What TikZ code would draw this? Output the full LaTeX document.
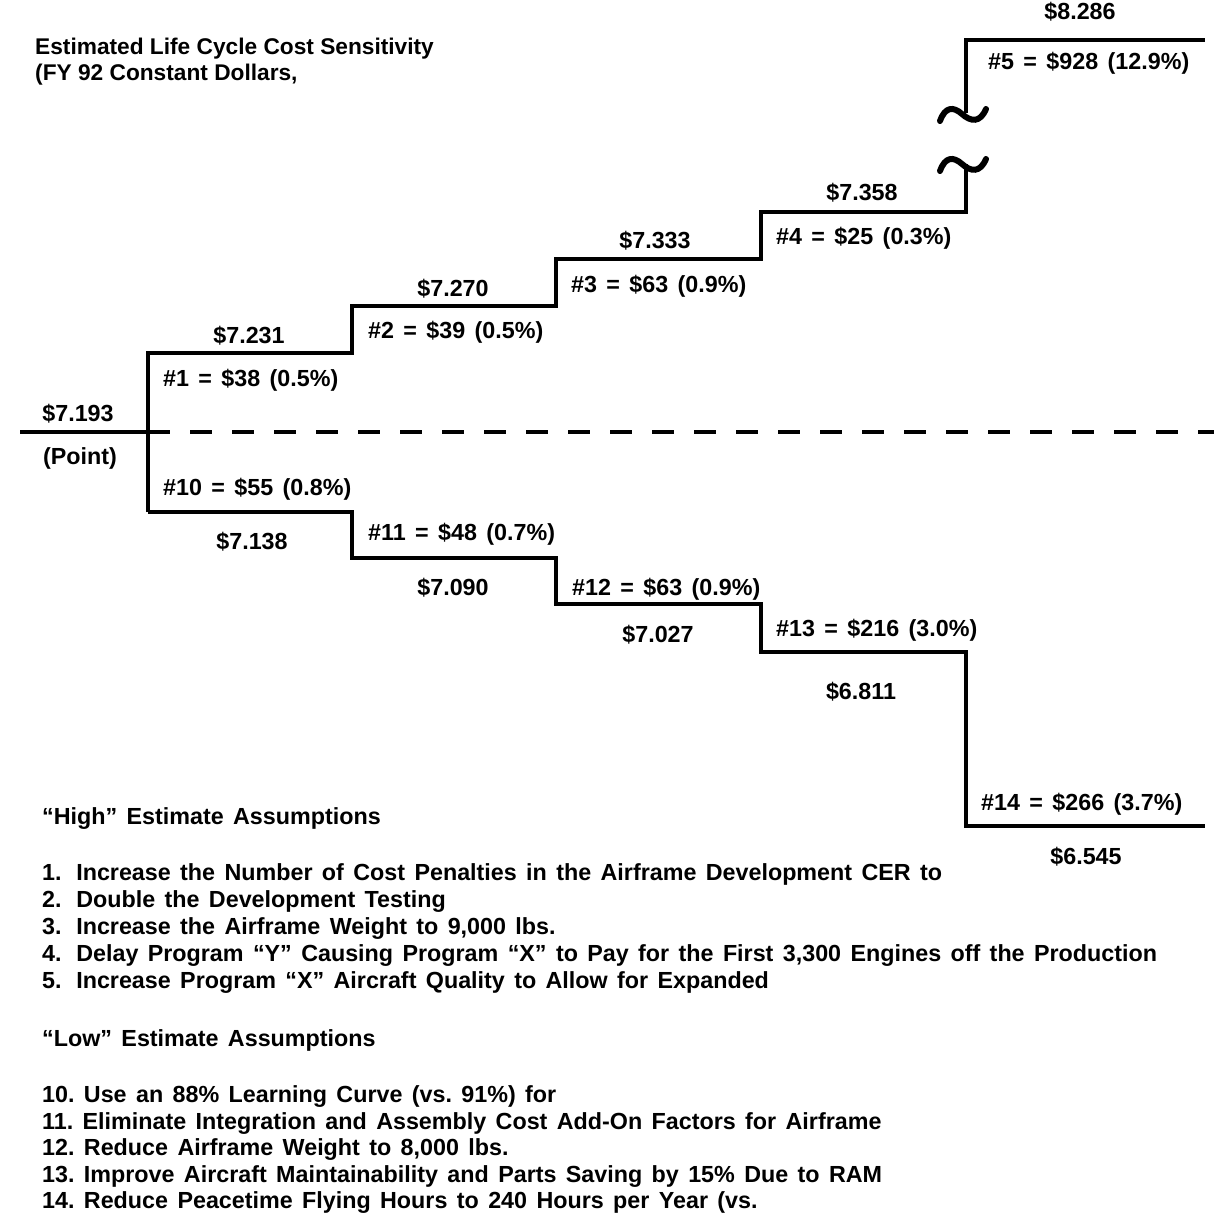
\documentclass[tikz,border=0pt]{standalone}
\usepackage{fontspec}
\setmainfont{Liberation Sans}[WordSpace=1.45]
\newfontfamily\titlefont{Liberation Sans}
\frenchspacing
\begin{document}
\begin{tikzpicture}[x=1pt,y=-1pt,
  stair/.style={line width=4pt, line join=miter, line cap=butt},
  brk/.style={line width=6pt, line cap=round},
  lbl/.style={font=\fontsize{23.3}{27}\selectfont\bfseries, inner sep=0pt},
  val/.style={lbl, anchor=base},
  dlt/.style={lbl, anchor=base west},
  txt/.style={lbl, anchor=base west},
  ttl/.style={font=\titlefont\fontsize{22.7}{27}\selectfont\bfseries, inner sep=0pt, anchor=base west}]
\useasboundingbox (0,0) rectangle (1214,1222);
% corner coordinates
\coordinate (s0) at (20,432);
\coordinate (p) at (148,432);
\coordinate (u1a) at (148,353); \coordinate (u1b) at (352,353);
\coordinate (u2a) at (352,306); \coordinate (u2b) at (556,306);
\coordinate (u3a) at (556,259); \coordinate (u3b) at (761,259);
\coordinate (u4a) at (761,212); \coordinate (u4b) at (966,212);
\coordinate (u5low) at (966,164);
\coordinate (u5up) at (966,113);
\coordinate (u5a) at (966,40); \coordinate (u5b) at (1205,40);
\coordinate (l1a) at (148,512); \coordinate (l1b) at (352,512);
\coordinate (l2a) at (352,558); \coordinate (l2b) at (556,558);
\coordinate (l3a) at (556,604); \coordinate (l3b) at (761,604);
\coordinate (l4a) at (761,652); \coordinate (l4b) at (966,652);
\coordinate (l5a) at (966,826); \coordinate (l5b) at (1205,826);
\coordinate (dend) at (1214,432);
% lines
\draw[stair] (s0) -- (p);
\draw[stair, dash pattern=on 22pt off 20pt] (p) -- (dend);
\draw[stair] (l1a) -- (p) -- (u1a) -- (u1b) -- (u2a) -- (u2b) -- (u3a) -- (u3b) -- (u4a) -- (u4b) -- (u5low);
\draw[stair] (u5up) -- (u5a) -- (u5b);
\draw[stair] (l1a) -- (l1b) -- (l2a) -- (l2b) -- (l3a) -- (l3b) -- (l4a) -- (l4b) -- (l5a) -- (l5b);
% break marks
\draw[brk] (940,121) .. controls (945,107) and (953,106) .. (962,114) .. controls (971,122) and (980,123) .. (986,109);
\draw[brk] (940,171) .. controls (945,157) and (953,156) .. (962,164) .. controls (971,172) and (980,173) .. (986,159);
% title
\node[ttl] (t1) at (35,55) {Estimated Life Cycle Cost Sensitivity};
\node[ttl] (t2) at (35,81) {(FY 92 Constant Dollars,};
% upper labels
\node[val] (v0) at (78,421) {\$7.193};
\node[val] (v0b) at (80,464) {(Point)};
\node[val] (v1) at (249,343) {\$7.231};
\node[dlt] (d1) at (163,386) {\#1 = \$38 (0.5\%)};
\node[val] (v2) at (453,297) {\$7.270};
\node[dlt] (d2) at (368,338) {\#2 = \$39 (0.5\%)};
\node[val] (v3) at (655,249) {\$7.333};
\node[dlt] (d3) at (571,292) {\#3 = \$63 (0.9\%)};
\node[val] (v4) at (862,201) {\$7.358};
\node[dlt] (d4) at (776,245) {\#4 = \$25 (0.3\%)};
\node[val] (v5) at (1080,20) {\$8.286};
\node[dlt] (d5) at (988,70) {\#5 = \$928 (12.9\%)};
% lower labels
\node[dlt] (d10) at (163,495) {\#10 = \$55 (0.8\%)};
\node[val] (v10) at (252,549) {\$7.138};
\node[dlt] (d11) at (368,540) {\#11 = \$48 (0.7\%)};
\node[val] (v11) at (453,595) {\$7.090};
\node[dlt] (d12) at (572,595) {\#12 = \$63 (0.9\%)};
\node[val] (v12) at (658,642) {\$7.027};
\node[dlt] (d13) at (776,636) {\#13 = \$216 (3.0\%)};
\node[val] (v13) at (861,699) {\$6.811};
\node[dlt] (d14) at (981,810) {\#14 = \$266 (3.7\%)};
\node[val] (v14) at (1086,864) {\$6.545};
% assumptions
\node[txt] (hh) at (42,824) {“High” Estimate Assumptions};
\node[txt] (h1) at (42,880) {1.\hspace{0.63em}Increase the Number of Cost Penalties in the Airframe Development CER to};
\node[txt] (h2) at (42,907) {2.\hspace{0.63em}Double the Development Testing};
\node[txt] (h3) at (42,934) {3.\hspace{0.63em}Increase the Airframe Weight to 9,000 lbs.};
\node[txt] (h4) at (42,961) {4.\hspace{0.63em}Delay Program “Y” Causing Program “X” to Pay for the First 3,300 Engines off the Production};
\node[txt] (h5) at (42,988) {5.\hspace{0.63em}Increase Program “X” Aircraft Quality to Allow for Expanded};
\node[txt] (lh) at (42,1046) {“Low” Estimate Assumptions};
\node[txt] (l10) at (42,1102) {10. Use an 88\% Learning Curve (vs. 91\%) for};
\node[txt] (l11) at (42,1129) {11. Eliminate Integration and Assembly Cost Add-On Factors for Airframe};
\node[txt] (l12) at (42,1155) {12. Reduce Airframe Weight to 8,000 lbs.};
\node[txt] (l13) at (42,1182) {13. Improve Aircraft Maintainability and Parts Saving by 15\% Due to RAM};
\node[txt] (l14) at (42,1208) {14. Reduce Peacetime Flying Hours to 240 Hours per Year (vs.};
\end{tikzpicture}
\end{document}
